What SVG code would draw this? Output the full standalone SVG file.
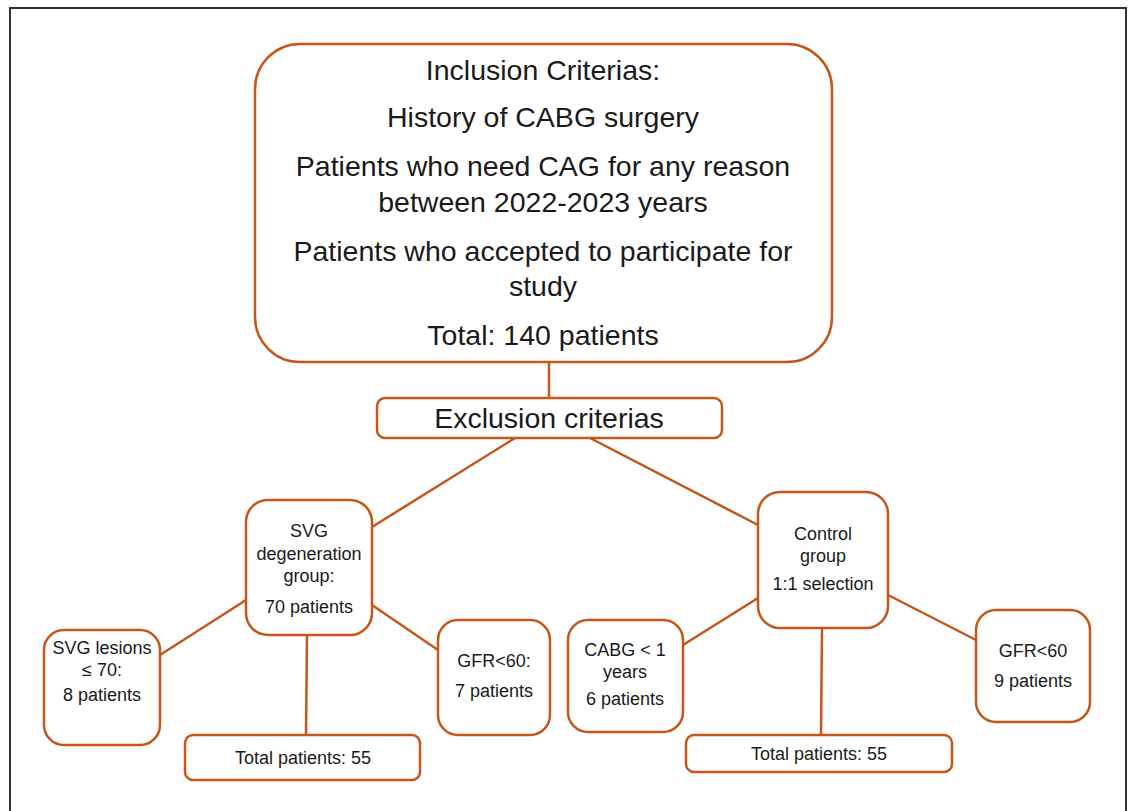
<svg xmlns="http://www.w3.org/2000/svg" width="1130" height="811" viewBox="0 0 1130 811">
<style>
.box{fill:#fff;stroke:#C4561A;stroke-width:2.5}
.ln{stroke:#C4561A;stroke-width:2.5;fill:none}
text{font-family:"Liberation Sans",Arial,sans-serif;fill:#1a1a1a;text-anchor:middle}
.big{font-size:28.5px}
.sm{font-size:18px}
</style>
<rect x="0" y="0" width="1130" height="811" fill="#fff"/>
<rect x="10" y="8" width="1116" height="820" fill="#fff" stroke="#333" stroke-width="2"/>
<g id="connectors">
<line class="ln" x1="549" y1="362" x2="549" y2="398"/>
<line class="ln" x1="515" y1="438" x2="372" y2="527"/>
<line class="ln" x1="590" y1="438" x2="758" y2="525"/>
<line class="ln" x1="246" y1="600" x2="160" y2="655"/>
<line class="ln" x1="372" y1="605" x2="438" y2="650"/>
<line class="ln" x1="307" y1="635" x2="306" y2="735"/>
<line class="ln" x1="758" y1="598" x2="683" y2="645"/>
<line class="ln" x1="888" y1="595" x2="976" y2="640"/>
<line class="ln" x1="822" y1="628" x2="821" y2="735"/>
</g>
<g id="inclusion">
<rect class="box" x="255" y="44" width="577" height="318" rx="45"/>
<text class="big" x="543" y="80">Inclusion Criterias:</text>
<text class="big" x="543" y="127">History of CABG surgery</text>
<text class="big" x="543" y="176">Patients who need CAG for any reason</text>
<text class="big" x="543" y="212">between 2022-2023 years</text>
<text class="big" x="543" y="261">Patients who accepted to participate for</text>
<text class="big" x="543" y="296">study</text>
<text class="big" x="543" y="345">Total: 140 patients</text>
</g>
<g id="exclusion">
<rect class="box" x="377" y="398" width="345" height="40" rx="8"/>
<text class="big" x="549" y="428">Exclusion criterias</text>
</g>
<g id="svg-group">
<rect class="box" x="246" y="500" width="126" height="135" rx="22"/>
<text class="sm" x="309" y="537">SVG</text>
<text class="sm" x="309" y="560">degeneration</text>
<text class="sm" x="309" y="582">group:</text>
<text class="sm" x="309" y="613">70 patients</text>
</g>
<g id="svg-lesions">
<rect class="box" x="44" y="630" width="116" height="115" rx="20"/>
<text class="sm" x="102" y="654">SVG lesions</text>
<text class="sm" x="102" y="676">≤ 70:</text>
<text class="sm" x="102" y="701">8 patients</text>
</g>
<g id="gfr-left">
<rect class="box" x="438" y="620" width="112" height="115" rx="20"/>
<text class="sm" x="494" y="667">GFR&lt;60:</text>
<text class="sm" x="494" y="697">7 patients</text>
</g>
<g id="total-left">
<rect class="box" x="185" y="735" width="235" height="45" rx="8"/>
<text class="sm" x="303" y="764">Total patients: 55</text>
</g>
<g id="control">
<rect class="box" x="758" y="492" width="130" height="136" rx="22"/>
<text class="sm" x="823" y="540">Control</text>
<text class="sm" x="823" y="562">group</text>
<text class="sm" x="823" y="590">1:1 selection</text>
</g>
<g id="cabg">
<rect class="box" x="568" y="620" width="115" height="112" rx="20"/>
<text class="sm" x="625" y="656">CABG &lt; 1</text>
<text class="sm" x="625" y="678">years</text>
<text class="sm" x="625" y="705">6 patients</text>
</g>
<g id="gfr-right">
<rect class="box" x="976" y="610" width="114" height="112" rx="20"/>
<text class="sm" x="1033" y="657">GFR&lt;60</text>
<text class="sm" x="1033" y="687">9 patients</text>
</g>
<g id="total-right">
<rect class="box" x="686" y="735" width="266" height="37" rx="8"/>
<text class="sm" x="819" y="760">Total patients: 55</text>
</g>
</svg>
